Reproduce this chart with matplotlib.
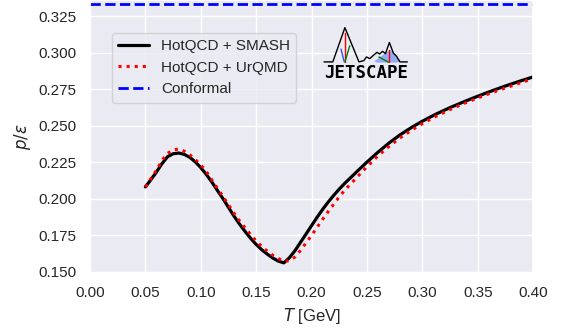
import numpy as np
import matplotlib
matplotlib.use("Agg")
from matplotlib import pyplot as plt
import seaborn as sns

# 온도 (GeV) 와 p/e 값
T_smash = [0.050, 0.055, 0.060, 0.065, 0.070, 0.075, 0.080, 0.085, 0.090, 0.095,
           0.100, 0.105, 0.110, 0.115, 0.120, 0.125, 0.130, 0.135, 0.140, 0.145,
           0.150, 0.155, 0.160, 0.165, 0.170, 0.175, 0.180, 0.185, 0.190, 0.195,
           0.200, 0.205, 0.210, 0.215, 0.220, 0.225, 0.230, 0.240, 0.250, 0.260,
           0.270, 0.280, 0.290, 0.300, 0.3125, 0.325, 0.3375, 0.350, 0.3625, 0.375,
           0.3875, 0.400]
ratio_smash = [0.2080, 0.2130, 0.2182, 0.2240, 0.2287, 0.2307, 0.2312, 0.2303, 0.2283, 0.2252,
               0.2212, 0.2165, 0.2113, 0.2056, 0.2000, 0.1940, 0.1880, 0.1825, 0.1775, 0.1728,
               0.1686, 0.1650, 0.1620, 0.1593, 0.1572, 0.1560, 0.1595, 0.1643, 0.1700, 0.1757,
               0.1815, 0.1872, 0.1926, 0.1976, 0.2022, 0.2065, 0.2105, 0.2178, 0.2250, 0.2318,
               0.2381, 0.2437, 0.2486, 0.2530, 0.2579, 0.2623, 0.2663, 0.2701, 0.2737, 0.2771,
               0.2803, 0.2833]

T_urqmd = [0.050, 0.055, 0.060, 0.065, 0.070, 0.075, 0.080, 0.085, 0.090, 0.095,
           0.100, 0.105, 0.110, 0.115, 0.120, 0.125, 0.130, 0.135, 0.140, 0.145,
           0.150, 0.155, 0.160, 0.165, 0.170, 0.175, 0.180, 0.185, 0.190, 0.195,
           0.200, 0.205, 0.210, 0.215, 0.220, 0.225, 0.230, 0.240, 0.250, 0.260,
           0.270, 0.280, 0.290, 0.300, 0.3125, 0.325, 0.3375, 0.350, 0.3625, 0.375,
           0.3875, 0.400]
ratio_urqmd = [0.2080, 0.2137, 0.2195, 0.2262, 0.2310, 0.2333, 0.2340, 0.2325, 0.2300, 0.2268,
               0.2230, 0.2185, 0.2128, 0.2070, 0.2015, 0.1958, 0.1900, 0.1847, 0.1800, 0.1753,
               0.1710, 0.1672, 0.1640, 0.1612, 0.1590, 0.1570, 0.1575, 0.1600, 0.1645, 0.1697,
               0.1748, 0.1803, 0.1858, 0.1911, 0.1962, 0.2012, 0.2058, 0.2138, 0.2218, 0.2293,
               0.2358, 0.2416, 0.2467, 0.2513, 0.2564, 0.2610, 0.2651, 0.2689, 0.2725, 0.2758,
               0.2790, 0.2822]

conformal = 1.0 / 3.0

x_ticks = [0.00, 0.05, 0.10, 0.15, 0.20, 0.25, 0.30, 0.35, 0.40]
y_ticks = [0.150, 0.175, 0.200, 0.225, 0.250, 0.275, 0.300, 0.325]

sns.set_theme(style="darkgrid")
plt.rcParams['font.family'] = ['Liberation Sans', 'DejaVu Sans']

fig = plt.figure(figsize=(5.68, 3.31), dpi=100)
ax = fig.add_axes([0.1585, 0.175, 0.78, 0.825])

ax.plot(T_smash, ratio_smash, color="black", lw=2.3, label="HotQCD + SMASH")
ax.plot(T_urqmd, ratio_urqmd, color="red", lw=2.2, ls=":", label="HotQCD + UrQMD")
ax.axhline(conformal, color="blue", lw=2, ls="--", label="Conformal")

ax.set_xlim(0.0, 0.40)
ax.set_ylim(0.149, 0.336)
ax.set_xticks(x_ticks)
ax.set_yticks(y_ticks)
ax.xaxis.set_major_formatter(plt.FormatStrFormatter("%.2f"))
ax.yaxis.set_major_formatter(plt.FormatStrFormatter("%.3f"))
ax.set_xlabel("$T$ [GeV]")
ax.set_ylabel(r"$p/\epsilon$")

ax.legend(loc="upper left", bbox_to_anchor=(0.0497, 0.879), borderaxespad=0)

# JETSCAPE 로고 (대충 선으로 그림)
logo = fig.add_axes([323 / 568, 1 - 81 / 331, 86 / 568, 55 / 331])
logo.set_xlim(125, 388)
logo.set_ylim(245, 78)
logo.axis("off")
mx = [128, 155, 192, 235, 250, 258, 268, 278, 290, 298, 307, 316, 328, 340, 350, 360, 383]
my = [187, 187, 83, 187, 183, 172, 177, 168, 158, 163, 155, 162, 128, 160, 170, 187, 187]
logo.fill([282, 300, 330, 345, 362, 352, 290], [185, 172, 150, 165, 182, 189, 189],
          color="#6f8ff7", alpha=0.7, lw=0)
logo.plot(mx, my, color="black", lw=1.0)
logo.plot([192, 192], [100, 187], color="red", lw=1.0)
logo.plot([180, 190], [148, 187], color="#3050ff", lw=1.0)
logo.plot([192, 207], [187, 138], color="green", lw=1.0)
logo.plot([328, 328], [150, 188], color="red", lw=1.0)
logo.plot([296, 325], [172, 188], color="green", lw=1.0)
logo.text(256, 221, "JETSCAPE", ha="center", va="center", fontsize=12.5,
          fontweight="bold", family="DejaVu Sans Mono", color="black")

plt.savefig("out.png", dpi=100)
